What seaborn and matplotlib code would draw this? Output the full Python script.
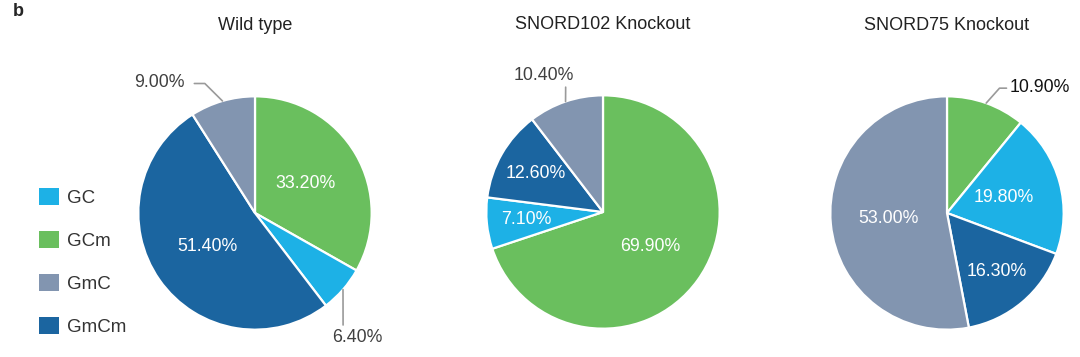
import numpy as np
import matplotlib.pyplot as plt
import seaborn as sns
from matplotlib.patches import Patch

sns.set_theme(style="white")
plt.rcParams['font.family'] = ['Liberation Sans', 'DejaVu Sans']

# data (percent per category)
categories = ['GC', 'GCm', 'GmC', 'GmCm']
pie_order = ['GCm', 'GC', 'GmCm', 'GmC']   # clockwise from 12 o'clock
titles = ['Wild type', 'SNORD102 Knockout', 'SNORD75 Knockout']
wild_type = [6.4, 33.2, 9.0, 51.4]
snord102_ko = [7.1, 69.9, 10.4, 12.6]
snord75_ko = [19.8, 10.9, 53.0, 16.3]
# slices whose label sits outside with a leader line
outside = [['GC', 'GmC'], ['GmC'], ['GCm']]

colors = dict(zip(categories, ['#1DB1E6', '#6ABF5E', '#8295B0', '#1B65A0']))
text_gray = '#404040'

W, H = 1080, 357
fig = plt.figure(figsize=(W / 100, H / 100), dpi=100)

centers = [(255, 213), (603, 212), (947, 213)]
box = 280
lim = 1.2

# leader line shapes per outside label: (elbow, end, text pos, ha)
leaders = {
    (0, 'GmC'): ((-0.43, 1.11), (-0.52, 1.11), (-0.60, 1.12), 'right'),
    (0, 'GC'): ((0.755, -0.96), (0.755, -0.96), (0.66, -1.07), 'left'),
    (1, 'GmC'): ((-0.32, 1.07), (-0.32, 1.07), (-0.51, 1.17), 'center'),
    (2, 'GCm'): ((0.45, 1.07), (0.51, 1.07), (0.54, 1.08), 'left'),
}

for i, (vals, title) in enumerate(zip([wild_type, snord102_ko, snord75_ko], titles)):
    cx, cy = centers[i]
    ax = fig.add_axes([(cx - box / 2) / W, (H - cy - box / 2) / H, box / W, box / H])
    lookup = dict(zip(categories, vals))
    sizes = [lookup[c] for c in pie_order]
    wedges, _ = ax.pie(sizes, colors=[colors[c] for c in pie_order], startangle=90,
                       counterclock=False, radius=1,
                       wedgeprops=dict(edgecolor='white', linewidth=1.6))
    ax.set_xlim(-lim, lim)
    ax.set_ylim(-lim, lim)
    ax.set_aspect('equal')
    ax.axis('off')

    for cat, w, v in zip(pie_order, wedges, sizes):
        mid = np.deg2rad((w.theta1 + w.theta2) / 2)
        label = f'{v:.2f}%'
        if cat in outside[i]:
            elbow, end, tpos, ha = leaders[(i, cat)]
            ex, ey = np.cos(mid), np.sin(mid)
            ax.plot([ex, elbow[0], end[0]], [ey, elbow[1], end[1]],
                    color='#9a9a9a', lw=1.2, clip_on=False)
            col = '#111111' if i == 2 else text_gray
            ax.text(tpos[0], tpos[1], label, ha=ha, va='center',
                    fontsize=12.8, color=col)
        else:
            d = 0.5 if v >= 19 else 0.66
            ax.text(d * np.cos(mid), d * np.sin(mid), label, ha='center',
                    va='center', fontsize=12.8, color='white')

    ax.text(0.5, 1.17, title, transform=ax.transAxes, ha='center', va='center',
            fontsize=13, color='#222222')

handles = [Patch(facecolor=colors[c], edgecolor='none') for c in categories]
fig.legend(handles, categories, loc='center left', bbox_to_anchor=(22 / W, 1 - 262 / H),
           frameon=False, fontsize=13.5, handlelength=1.05, handleheight=1.05,
           handletextpad=0.45, labelspacing=1.28, labelcolor='#333333')

fig.text(13 / W, 1 - 12 / H, 'b', fontsize=13, fontweight='bold', va='center', ha='left')

fig.savefig('out.png', dpi=100)
